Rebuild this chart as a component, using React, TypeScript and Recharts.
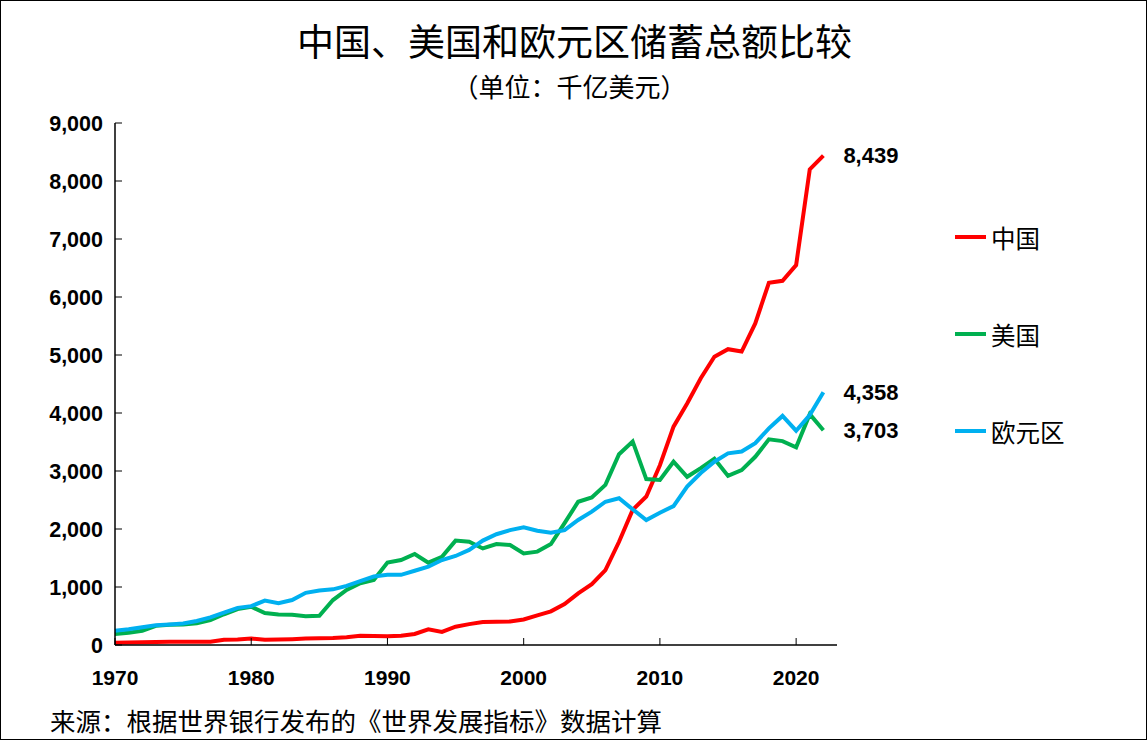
import { LineChart, Line, XAxis, YAxis, LabelList } from "recharts";

const years = [
  1970, 1971, 1972, 1973, 1974, 1975, 1976, 1977, 1978, 1979,
  1980, 1981, 1982, 1983, 1984, 1985, 1986, 1987, 1988, 1989,
  1990, 1991, 1992, 1993, 1994, 1995, 1996, 1997, 1998, 1999,
  2000, 2001, 2002, 2003, 2004, 2005, 2006, 2007, 2008, 2009,
  2010, 2011, 2012, 2013, 2014, 2015, 2016, 2017, 2018, 2019,
  2020, 2021, 2022,
];

// 单位：千亿美元
const china = [
  40, 42, 48, 52, 55, 55, 55, 55, 90, 95,
  110, 90, 95, 100, 110, 115, 120, 135, 160, 155,
  150, 160, 190, 270, 225, 315, 360, 395, 400, 405,
  440, 510, 580, 705, 890, 1050, 1290, 1780, 2330, 2560,
  3100, 3765, 4165, 4600, 4970, 5100, 5060, 5545, 6245, 6280,
  6550, 8200, 8439,
];

const usa = [
  190, 212, 245, 330, 350, 355, 375, 430, 530, 620,
  660, 550, 525, 520, 495, 505, 775, 950, 1065, 1120,
  1420, 1465, 1570, 1420, 1520, 1800, 1780, 1665, 1740, 1725,
  1580, 1610, 1740, 2100, 2470, 2545, 2760, 3290, 3510, 2860,
  2845, 3160, 2900, 3050, 3210, 2915, 3015, 3245, 3545, 3515,
  3410, 3980, 3703,
];

const euro = [
  245, 270, 305, 340, 355, 370, 415, 475, 560, 640,
  670, 765, 720, 775, 900, 940, 960, 1020, 1100, 1180,
  1210, 1210, 1280, 1350, 1465, 1535, 1640, 1800, 1910, 1980,
  2030, 1970, 1935, 1980, 2155, 2300, 2470, 2530, 2340, 2155,
  2280, 2395, 2730, 2965, 3160, 3305, 3335, 3480, 3735, 3950,
  3695, 3965, 4358,
];

const xTicks = [1970, 1980, 1990, 2000, 2010, 2020];
const yTicks = [0, 1000, 2000, 3000, 4000, 5000, 6000, 7000, 8000, 9000];

const series = [
  { key: "china", name: "中国", color: "#FF0000" },
  { key: "usa", name: "美国", color: "#00B050" },
  { key: "euro", name: "欧元区", color: "#00B0F0" },
];

const data = years.map((year, i) => ({
  year,
  china: china[i],
  usa: usa[i],
  euro: euro[i],
}));

const tickFont = "'Liberation Sans', Arial, sans-serif";
const cjkFont = "'Noto Sans CJK SC', sans-serif";

const formatNumber = (v: number) => v.toLocaleString("en-US");

const XTick = (props: any) => {
  const { x, y, payload } = props;
  return (
    <g>
      <line x1={x} x2={x} y1={y} y2={y - 7} stroke="#000" strokeWidth={1} />
      <text x={x} y={y + 40} textAnchor="middle" fontFamily={tickFont} fontWeight="bold" fontSize={21} fill="#000">
        {payload.value}
      </text>
    </g>
  );
};

const YTick = (props: any) => {
  const { x, y, payload } = props;
  return (
    <g>
      <line x1={x} x2={x + 7} y1={y} y2={y} stroke="#000" strokeWidth={1} />
      <text x={x - 12} y={y} dy="0.35em" textAnchor="end" fontFamily={tickFont} fontWeight="bold" fontSize={21.5} fill="#000">
        {formatNumber(payload.value)}
      </text>
    </g>
  );
};

const lastIndex = years.length - 1;

const EndLabel = (props: any) => {
  const { x, y, value, index } = props;
  if (index !== lastIndex) return null;
  return (
    <text x={x + 20} y={y} dy="0.35em" fontFamily={tickFont} fontWeight="bold" fontSize={22} fill="#000">
      {formatNumber(value)}
    </text>
  );
};

export default function App() {
  return (
    <div
      style={{
        position: "absolute",
        left: 0,
        top: 0,
        width: 1147,
        height: 740,
        background: "#fff",
        border: "1px solid #000",
        boxSizing: "border-box",
        overflow: "hidden",
      }}
    >
      <div
        style={{
          position: "absolute",
          top: 19,
          left: 0,
          width: 1147,
          textAlign: "center",
          fontFamily: cjkFont,
          fontSize: 37,
          lineHeight: "40px",
          color: "#000",
        }}
      >
        中国、美国和欧元区储蓄总额比较
      </div>
      <div
        style={{
          position: "absolute",
          top: 70,
          left: 0,
          width: 1137,
          textAlign: "center",
          fontFamily: cjkFont,
          fontSize: 26,
          lineHeight: "30px",
          color: "#000",
        }}
      >
        （单位：千亿美元）
      </div>
      <div style={{ position: "absolute", left: -1, top: -1 }}>
        <LineChart width={1147} height={740} data={data} margin={{ top: 123, right: 310, bottom: 55, left: 0 }}>
          <XAxis
            dataKey="year"
            type="number"
            domain={[1970, 2023]}
            ticks={xTicks}
            interval={0}
            height={40}
            tickLine={false}
            tickSize={0}
            tickMargin={0}
            tick={<XTick />}
            axisLine={{ stroke: "#000", strokeWidth: 1.5 }}
          />
          <YAxis
            type="number"
            domain={[0, 9000]}
            ticks={yTicks}
            interval={0}
            width={115}
            tickLine={false}
            tickSize={0}
            tickMargin={0}
            tick={<YTick />}
            axisLine={{ stroke: "#000", strokeWidth: 1.5 }}
          />
          {series.map((s) => (
            <Line
              key={s.key}
              name={s.name}
              dataKey={s.key}
              stroke={s.color}
              strokeWidth={4}
              dot={false}
              isAnimationActive={false}
            >
              <LabelList dataKey={s.key} content={<EndLabel />} />
            </Line>
          ))}
        </LineChart>
      </div>
      <div style={{ position: "absolute", left: 954, top: 220 }}>
        {series.map((s) => (
          <div key={s.key} style={{ height: 97, display: "flex", alignItems: "flex-start" }}>
            <div style={{ display: "flex", alignItems: "center", height: 32 }}>
              <div style={{ width: 31, height: 4, background: s.color, marginRight: 5 }} />
              <span style={{ fontFamily: cjkFont, fontSize: 24.5, color: "#000" }}>{s.name}</span>
            </div>
          </div>
        ))}
      </div>
      <div
        style={{
          position: "absolute",
          left: 49,
          top: 703,
          fontFamily: cjkFont,
          fontSize: 25.5,
          lineHeight: "32px",
          color: "#000",
          whiteSpace: "nowrap",
        }}
      >
        来源：根据世界银行发布的《世界发展指标》数据计算
      </div>
    </div>
  );
}
